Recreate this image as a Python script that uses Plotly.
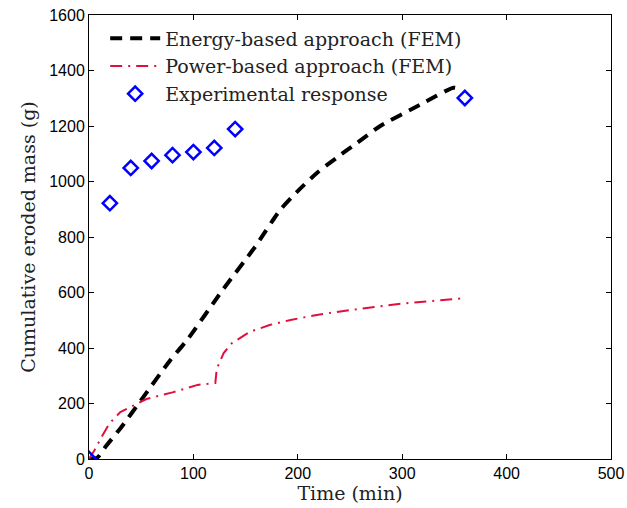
import plotly.graph_objects as go

# Energy-based approach (FEM)
energy_t = [0, 8, 16, 30, 52, 78, 94, 128, 159, 183, 199, 218, 237, 257, 279, 317, 349, 355]
energy_m = [0, 5, 45, 110, 223, 357, 429, 609, 764, 897, 962, 1030, 1085, 1140, 1200, 1276, 1338, 1334]

# Power-based approach (FEM)
power_t = [0, 5, 13, 20, 30, 39, 55, 80, 104, 121, 122.5, 124, 129, 137, 154, 173, 193, 218, 250, 300, 360]
power_m = [0, 30, 86, 130, 169, 187, 216, 240, 267, 274, 330, 339, 382, 418, 458, 483, 501, 519, 537, 560, 580]

# Experimental response
exp_t = [0, 20, 40, 60, 80, 100, 120, 140, 360]
exp_m = [0, 922, 1049, 1074, 1095, 1106, 1121, 1189, 1301]

x_ticks = [0, 100, 200, 300, 400, 500]
y_ticks = [0, 200, 400, 600, 800, 1000, 1200, 1400, 1600]

serif = "DejaVu Serif"
sans = "Liberation Sans"

fig = go.Figure()
fig.add_trace(go.Scatter(
    x=energy_t, y=energy_m, mode="lines", name="Energy-based approach (FEM)",
    line=dict(color="black", width=4, dash="12px,8px", shape="spline", smoothing=0.6),
))
fig.add_trace(go.Scatter(
    x=power_t, y=power_m, mode="lines", name="Power-based approach (FEM)",
    line=dict(color="#e0103c", width=2, dash="12px,6px,2px,6px"),
))
fig.add_trace(go.Scatter(
    x=exp_t, y=exp_m, mode="markers", name="Experimental response",
    marker=dict(symbol="diamond-open", color="#0000ff", size=11, line=dict(width=2.5, color="#0000ff")),
))

fig.update_layout(
    width=627, height=508,
    margin=dict(l=89, r=16, t=15, b=49),
    paper_bgcolor="white", plot_bgcolor="white",
    showlegend=True,
    legend=dict(x=0.031, y=0.99, xanchor="left", yanchor="top",
                bgcolor="rgba(0,0,0,0)", font=dict(family=serif, size=19, color="#222"),
                tracegroupgap=0, itemwidth=50),
)
fig.update_xaxes(
    range=[0, 500], tickvals=x_ticks, ticktext=[str(v) for v in x_ticks],
    ticks="inside", ticklen=5, tickcolor="black", mirror="ticks",
    showline=True, linecolor="black", linewidth=1, showgrid=False, zeroline=False,
    tickfont=dict(family=sans, size=16, color="black"), automargin=False,
    title=dict(text="Time (min)", font=dict(family=serif, size=19, color="#222"), standoff=4),
)
fig.update_yaxes(
    range=[0, 1600], tickvals=y_ticks, ticktext=[str(v) for v in y_ticks],
    ticks="inside", ticklen=5, tickcolor="black", mirror="ticks",
    showline=True, linecolor="black", linewidth=1, showgrid=False, zeroline=False,
    tickfont=dict(family=sans, size=16, color="black"), automargin=False,
    title=dict(text="Cumulative eroded mass (g)", font=dict(family=serif, size=19, color="#222"), standoff=8),
)

fig.write_html("out.html")
